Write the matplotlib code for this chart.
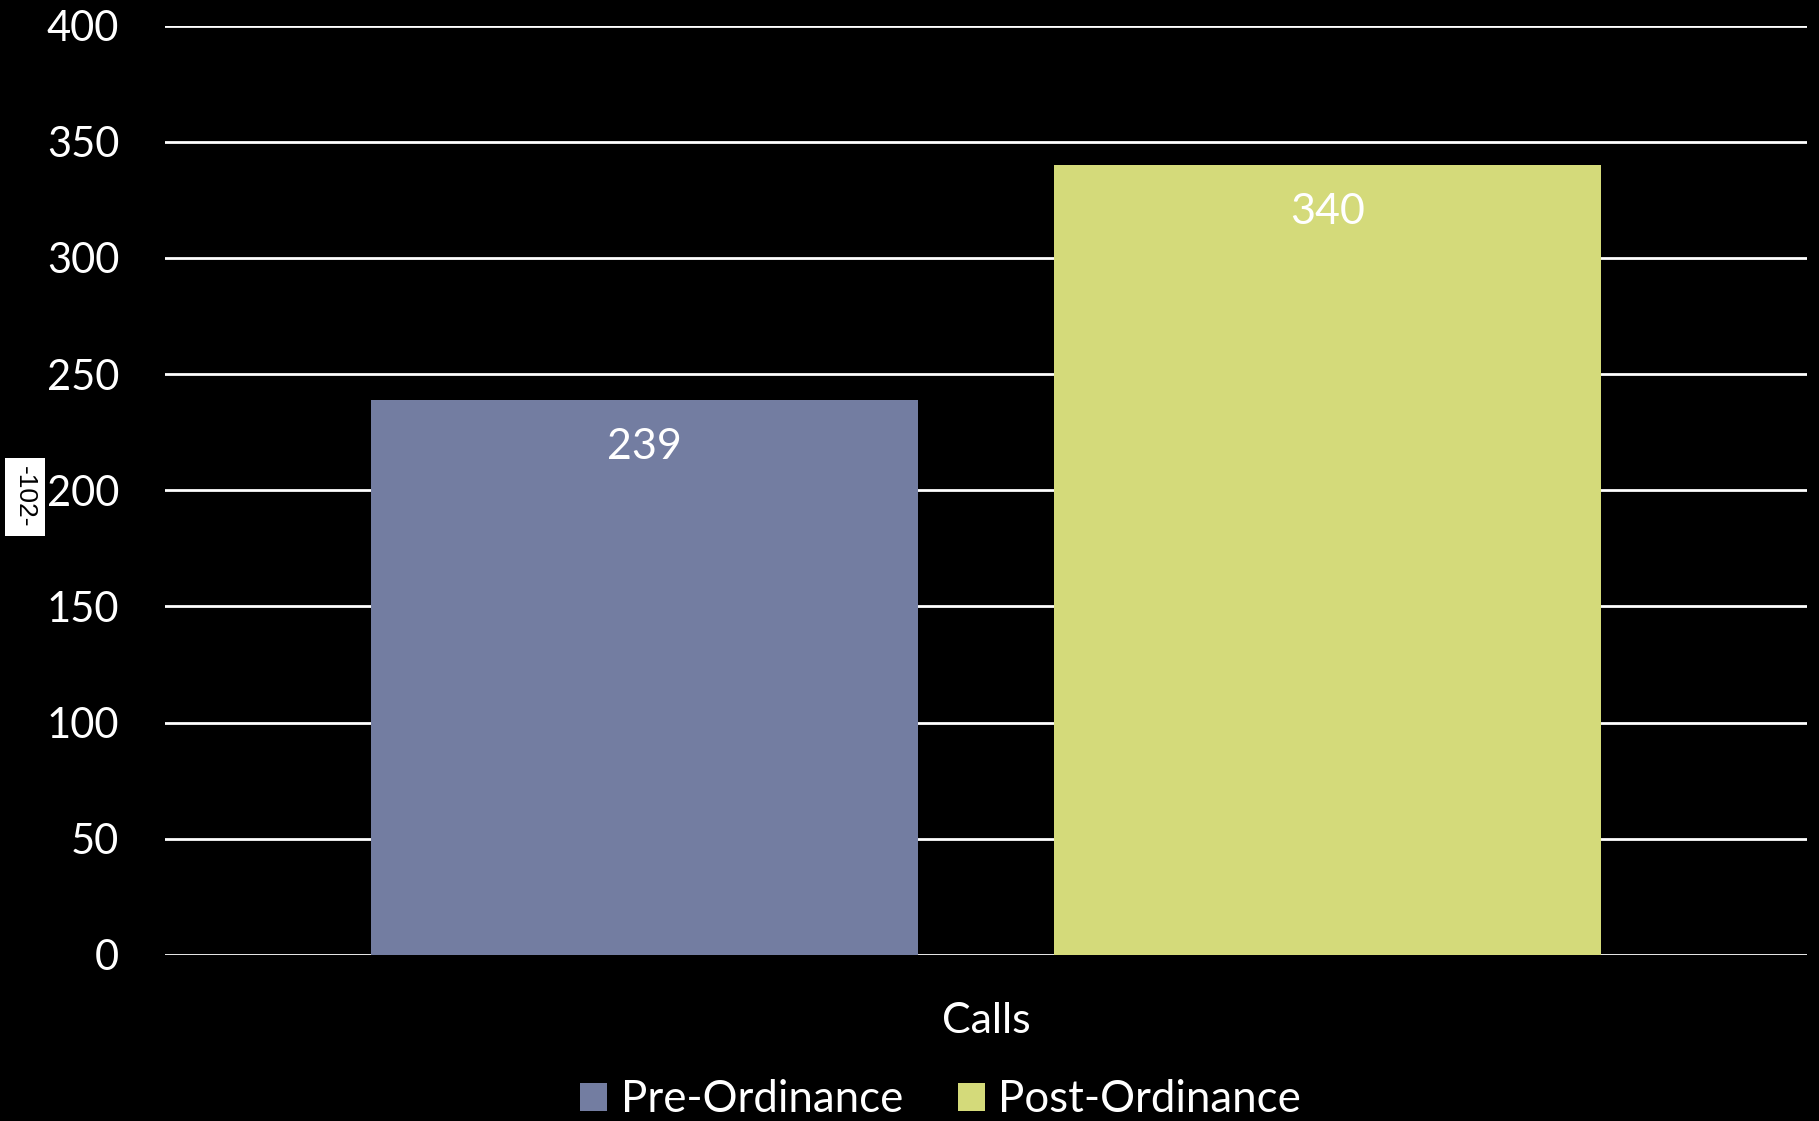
import matplotlib.pyplot as plt
from matplotlib.patches import Patch

plt.rcParams['font.family'] = ['Lato', 'DejaVu Sans']

series = ['Pre-Ordinance', 'Post-Ordinance']
values = [239, 340]
colors = ['#737DA1', '#D4DA7A']
category = 'Calls'
yticks = [0, 50, 100, 150, 200, 250, 300, 350, 400]

fig = plt.figure(figsize=(18.19, 11.21), dpi=100, facecolor='black')
ax = fig.add_axes([165 / 1819, 1 - 955 / 1121, 1642 / 1819, (955 - 25.5) / 1121])
ax.set_facecolor('black')

pos = [-0.5, 0.5]
bars = ax.bar(pos, values, width=0.80, color=colors, zorder=3)
for b, v in zip(bars, values):
    ax.annotate(str(v), (b.get_x() + b.get_width() / 2, v), xytext=(0, -34),
                textcoords='offset points', ha='center', va='center',
                color='white', fontsize=31)

ax.set_xlim(-1.202, 1.202)
ax.set_ylim(0, 400)
ax.set_yticks(yticks)
ax.set_yticklabels([str(t) for t in yticks], color='white', fontsize=30)
ax.tick_params(axis='y', length=0, pad=33)
ax.set_xticks([0])
ax.set_xticklabels([category], color='white', fontsize=31)
ax.tick_params(axis='x', length=0, pad=34)
ax.yaxis.grid(True, color='white', linewidth=2, zorder=1)
ax.set_axisbelow(True)
for s in ax.spines.values():
    s.set_visible(False)

handles = [Patch(facecolor=c, label=s) for s, c in zip(series, colors)]
fig.legend(handles=handles, loc='center', bbox_to_anchor=(0.517, 1 - 1100 / 1121),
           ncol=2, frameon=False, fontsize=31.5, labelcolor='white',
           handlelength=0.62, handleheight=0.62, handletextpad=0.3, columnspacing=1.25)

# page number tag on the left edge
fig.text(25 / 1819, 1 - 497 / 1121, '-102-', rotation=-90, ha='center', va='center',
         family='Liberation Sans', fontsize=19, color='black',
         bbox=dict(facecolor='white', edgecolor='none', pad=6))

fig.savefig('out.png', dpi=100, facecolor='black')
